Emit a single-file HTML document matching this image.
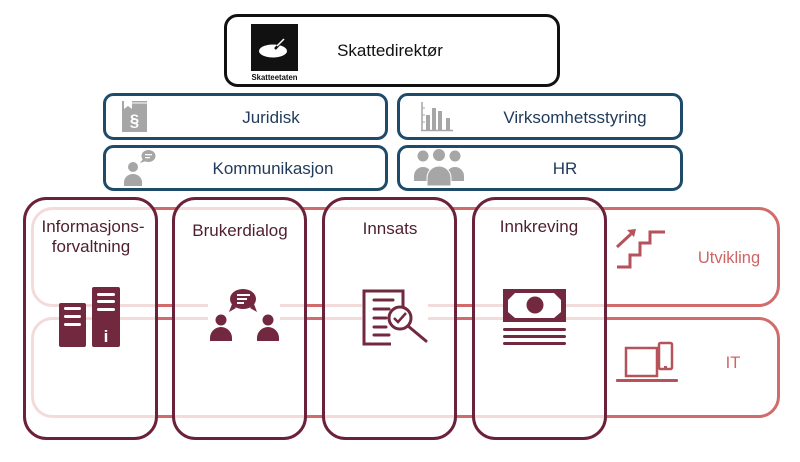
<!DOCTYPE html>
<html><head><meta charset="utf-8"><style>
html,body{margin:0;padding:0;background:#fff;}
svg{display:block;}
text{font-family:"Liberation Sans",Arial,sans-serif;}
</style></head><body>
<svg width="800" height="462" viewBox="0 0 800 462" xmlns="http://www.w3.org/2000/svg">
<rect width="800" height="462" fill="#fff"/>
<!-- Top box -->
<rect x="225.5" y="15.5" width="333" height="70" rx="12" fill="#fff" stroke="#111" stroke-width="3"/>
<rect x="251" y="24" width="47" height="47" fill="#111"/>
<ellipse cx="273" cy="51" rx="14" ry="6.5" fill="#fff"/>
<line x1="275" y1="49" x2="284" y2="39" stroke="#111" stroke-width="2.5"/>
<line x1="277" y1="46" x2="284" y2="39" stroke="#fff" stroke-width="1.5"/>
<text x="274.5" y="80" font-size="8" font-weight="bold" text-anchor="middle" textLength="46" lengthAdjust="spacingAndGlyphs" fill="#111">Skatteetaten</text>
<text x="390" y="56" font-size="17" text-anchor="middle" fill="#111">Skattedirektør</text>

<!-- Blue boxes -->
<g fill="#fff" stroke="#1f4b6b" stroke-width="3">
<rect x="104.5" y="94.5" width="282" height="44" rx="9"/>
<rect x="104.5" y="146.5" width="282" height="43" rx="9"/>
<rect x="398.5" y="94.5" width="283" height="44" rx="9"/>
<rect x="398.5" y="146.5" width="283" height="43" rx="9"/>
</g>
<g font-size="17" fill="#1f3a5a" text-anchor="middle">
<text x="271" y="123">Juridisk</text>
<text x="273" y="174">Kommunikasjon</text>
<text x="575" y="123">Virksomhetsstyring</text>
<text x="565" y="174">HR</text>
</g>
<!-- Juridisk icon -->
<g fill="#a6a6a6">
<rect x="122" y="101" width="25" height="31"/>
<text x="134.5" y="126" font-size="17" font-weight="bold" fill="#fff" text-anchor="middle">§</text>
</g>
<path d="M124 101 h8 v8 l-4 -3 l-4 3z" fill="#fff"/>
<line x1="124" y1="103" x2="147" y2="103" stroke="#fff" stroke-width="1"/>
<!-- Kommunikasjon icon -->
<g fill="#a6a6a6">
<circle cx="133" cy="167" r="5"/>
<path d="M124 186 v-4 a9 8 0 0 1 18 0 v4z"/>
<ellipse cx="148.5" cy="156" rx="7" ry="6"/>
<path d="M143 159 l-3 4 l6 -2z"/>
</g>
<rect x="145" y="154" width="7" height="1.3" fill="#fff"/>
<rect x="145" y="157" width="5" height="1.3" fill="#fff"/>
<!-- Bar chart -->
<g stroke="#a6a6a6" fill="none">
<line x1="422" y1="102" x2="422" y2="131" stroke-width="1.5"/>
<line x1="421" y1="130.5" x2="453" y2="130.5" stroke-width="1.5"/>
<line x1="422" y1="108" x2="425" y2="108" stroke-width="1"/>
<line x1="422" y1="115" x2="425" y2="115" stroke-width="1"/>
<line x1="422" y1="122" x2="425" y2="122" stroke-width="1"/>
</g>
<g fill="#a6a6a6">
<rect x="426" y="115" width="4" height="15"/>
<rect x="432" y="108" width="4" height="22"/>
<rect x="438" y="111" width="4" height="19"/>
<rect x="446" y="118" width="4" height="12"/>
</g>
<!-- Group icon -->
<g fill="#a6a6a6">
<circle cx="423" cy="156" r="5.5"/>
<circle cx="455" cy="156" r="5.5"/>
<path d="M414 181 v-5 a9 9 0 0 1 18 0 v5z"/>
<path d="M446 181 v-5 a9 9 0 0 1 18 0 v5z"/>
<circle cx="439" cy="155" r="6.5" stroke="#fff" stroke-width="1"/>
<path d="M427 186 v-8 a12 12 0 0 1 24 0 v8z" stroke="#fff" stroke-width="1"/>
</g>

<!-- Bands -->
<g fill="none" stroke="#d26b6b" stroke-width="3">
<rect x="32.5" y="208.5" width="746" height="97" rx="20"/>
<rect x="32.5" y="318.5" width="746" height="98" rx="20"/>
</g>
<text x="729" y="263" font-size="16.5" fill="#d06464" text-anchor="middle">Utvikling</text>
<text x="733" y="368" font-size="16.5" fill="#d06464" text-anchor="middle">IT</text>
<!-- Stairs -->
<g fill="none" stroke="#b5525a" stroke-width="3" stroke-linejoin="miter">
<polyline points="617,267 630,267 630,255 640,255 640,243 650,243 650,232 665,232"/>
<line x1="617" y1="247" x2="631" y2="234"/>
</g>
<path d="M636 229 l-9 1 l7 7z" fill="#b5525a"/>
<!-- Laptop -->
<g fill="none" stroke="#b5525a" stroke-width="2.5">
<rect x="626" y="348" width="31" height="28"/>
<rect x="659" y="343" width="13" height="26" rx="1.5"/>
</g>
<rect x="616" y="379" width="62" height="3" rx="1" fill="#b5525a"/>
<rect x="664" y="366" width="3" height="2" fill="#b5525a"/>

<!-- Vertical boxes -->
<g fill="#fff" fill-opacity="0.76" stroke="#6b2139" stroke-width="3">
<rect x="24.5" y="198.5" width="132" height="240" rx="22"/>
<rect x="173.5" y="198.5" width="132" height="240" rx="22"/>
<rect x="323.5" y="198.5" width="132" height="240" rx="22"/>
<rect x="473.5" y="198.5" width="132" height="240" rx="22"/>
</g>
<g font-size="17" fill="#4e1f2e" text-anchor="middle">
<text x="93" y="232">Informasjons-</text>
<text x="91" y="252">forvaltning</text>
<text x="240" y="236">Brukerdialog</text>
<text x="390" y="234">Innsats</text>
<text x="539" y="232">Innkreving</text>
</g>
<!-- halos -->
<rect x="208" y="300" width="72" height="32" fill="#fff"/>
<rect x="362" y="298" width="66" height="34" fill="#fff"/>

<!-- Server icon -->
<g fill="#72293f">
<rect x="59" y="303" width="27" height="44" rx="2"/>
<rect x="92" y="287" width="28" height="60" rx="2"/>
</g>
<g fill="#fff">
<rect x="64" y="307" width="17" height="3" rx="1.5"/>
<rect x="64" y="315" width="17" height="3" rx="1.5"/>
<rect x="64" y="323" width="17" height="3" rx="1.5"/>
<rect x="97" y="293" width="18" height="3" rx="1.5"/>
<rect x="97" y="300" width="18" height="3" rx="1.5"/>
<rect x="97" y="308" width="18" height="3" rx="1.5"/>
</g>
<text x="106" y="342" font-family="Liberation Serif,serif" font-size="17" font-weight="bold" fill="#fff" text-anchor="middle">i</text>

<!-- Brukerdialog icon -->
<g fill="#72293f">
<ellipse cx="243" cy="299" rx="13" ry="10"/>
<path d="M232 304 l-3 8 l7 -4z"/>
<path d="M254 304 l3 8 l-7 -4z"/>
<circle cx="221" cy="320" r="5.5"/>
<path d="M210 341 v-3 a11 11 0 0 1 22 0 v3z"/>
<circle cx="268" cy="320" r="5.5"/>
<path d="M257 341 v-3 a11 11 0 0 1 22 0 v3z"/>
</g>
<g fill="#fff">
<rect x="237" y="294" width="13" height="2"/>
<rect x="237" y="298" width="10" height="2"/>
<rect x="237" y="302" width="7" height="2"/>
</g>

<!-- Innsats icon -->
<g fill="none" stroke="#72293f" stroke-width="3">
<path d="M391 344 H364 V291 H403 V307"/>
<circle cx="400" cy="318" r="11" fill="#fff"/>
<line x1="408" y1="326" x2="426" y2="341" stroke-linecap="round"/>
<polyline points="394,318 398,322 406,313" stroke-width="2.5"/>
</g>
<g stroke="#72293f" stroke-width="3" stroke-linecap="round">
<line x1="374" y1="300" x2="393" y2="300"/>
<line x1="374" y1="309" x2="389" y2="309"/>
<line x1="374" y1="318" x2="386" y2="318"/>
<line x1="374" y1="327" x2="386" y2="327"/>
<line x1="374" y1="335" x2="389" y2="335"/>
</g>

<!-- Innkreving icon -->
<rect x="503" y="289" width="63" height="33" fill="#72293f"/>
<polygon points="515,293 554,293 561,300 561,312 554,318 515,318 508,312 508,300" fill="#fff"/>
<circle cx="535" cy="305" r="8.5" fill="#72293f"/>
<g fill="#72293f">
<rect x="503" y="328" width="63" height="3" rx="1.5"/>
<rect x="503" y="335" width="63" height="3" rx="1.5"/>
<rect x="503" y="342" width="63" height="3" rx="1.5"/>
</g>
</svg>
</body></html>
